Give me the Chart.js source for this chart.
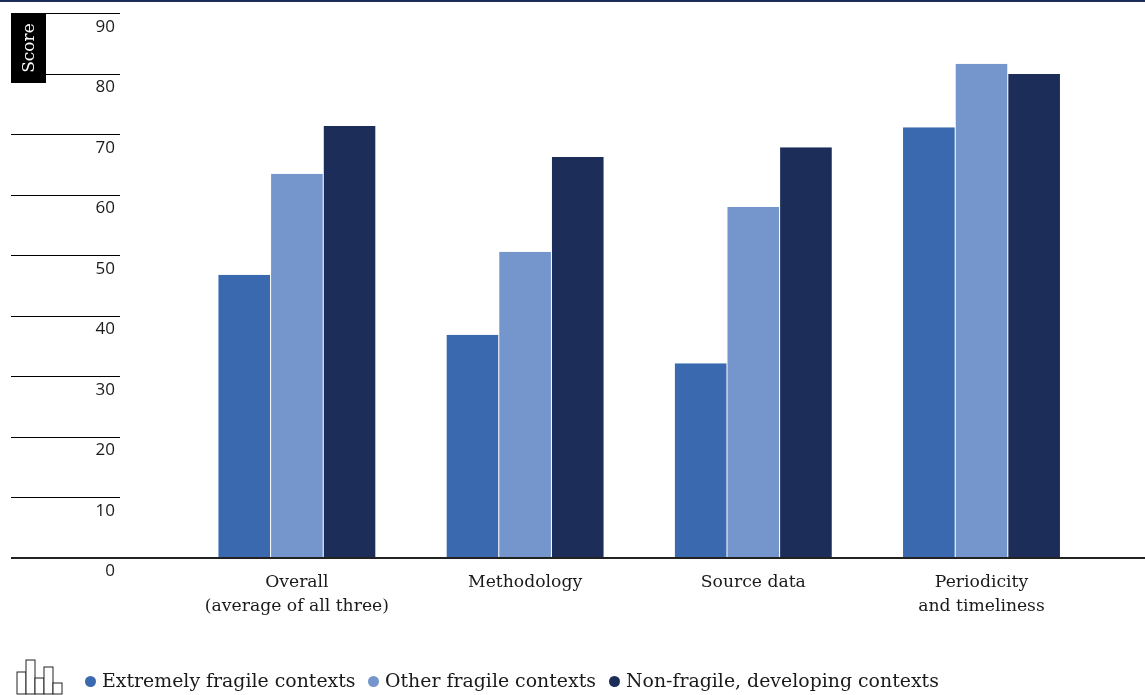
<!DOCTYPE html>
<html lang="en">
<head>
<meta charset="utf-8">
<title>Score by context</title>
<script src="https://cdn.jsdelivr.net/npm/chart.js@4"></script>
<style>
    html, body { margin: 0; padding: 0; background: #fff; }
    #wrap { position: relative; width: 1145px; height: 695px; overflow: hidden; }
    #grafico { position: absolute; left: 0; top: 0; }
    #linea-top { position: absolute; left: 0; top: 0; width: 100%; height: 2px; background: #1c2d5a; }
    #icono { position: absolute; left: 16px; top: 659px; }
    .leyenda { position: absolute; top: 668px; font: 18.9px/24px "DejaVu Serif", serif; color: #1a1a1a; white-space: nowrap; }
    .punto { position: absolute; top: 676px; width: 11px; height: 11px; border-radius: 50%; }
</style>
</head>
<body>
<div id="wrap">
    <canvas id="grafico" width="1145" height="695"></canvas>
    <div id="linea-top"></div>
    <svg id="icono" width="47" height="36" fill="#fff" stroke="#222" stroke-width="1">
        <rect x="1" y="13" width="9" height="22"/>
        <rect x="10" y="1" width="9" height="34"/>
        <rect x="19" y="19" width="9" height="16"/>
        <rect x="28" y="8" width="9" height="27"/>
        <rect x="37" y="24" width="9" height="11"/>
    </svg>
</div>
<script>
// Datos del gráfico
const categorias = [['Overall', '(average of all three)'], 'Methodology', 'Source data', ['Periodicity', 'and timeliness']];
const extremos = [46.8, 36.9, 32.2, 71.2];
const otros = [63.5, 50.6, 58, 81.7];
const noFragiles = [71.4, 66.3, 67.9, 80];
const nombresSeries = ['Extremely fragile contexts', 'Other fragile contexts', 'Non-fragile, developing contexts'];
const colores = ['#3a69b0', '#7596cc', '#1c2d5a'];
const ticksY = [0, 10, 20, 30, 40, 50, 60, 70, 80, 90];

// Eje Y a la izquierda: líneas cortas, números debajo de cada línea y etiqueta "Score"
const ejeIzquierdo = {
    id: 'ejeIzquierdo',
    afterDraw(chart) {
        const { ctx, scales: { y } } = chart;
        ctx.save();
        ticksY.forEach((t) => {
            const py = y.getPixelForValue(t);
            if (t === 0) {
                ctx.fillStyle = '#222';
                ctx.fillRect(11, Math.round(py) - 1, 1134, 2);
            } else {
                ctx.fillStyle = '#000';
                ctx.fillRect(11, Math.floor(py), 109, 1);
            }
            ctx.fillStyle = '#1a1a1a';
            ctx.font = '17px "Open Sans"';
            ctx.textAlign = 'right';
            ctx.textBaseline = 'middle';
            ctx.fillText(String(t), 115, Math.round(py) + 13);
        });
        ctx.fillStyle = '#000';
        ctx.fillRect(11, 13, 35, 70);
        ctx.translate(29.5, 48);
        ctx.rotate(-Math.PI / 2);
        ctx.fillStyle = '#fff';
        ctx.font = '17px "DejaVu Serif"';
        ctx.textAlign = 'center';
        ctx.textBaseline = 'middle';
        ctx.fillText('Score', 0, 0);
        ctx.restore();
    },
};

new Chart(document.getElementById('grafico'), {
    type: 'bar',
    data: {
        labels: categorias,
        datasets: [extremos, otros, noFragiles].map((valores, i) => ({
            label: nombresSeries[i],
            data: valores,
            backgroundColor: colores[i],
            borderColor: '#fff',
            borderWidth: { left: 0.5, right: 0.5, top: 0, bottom: 0 },
            categoryPercentage: 0.692,
            barPercentage: 1,
        })),
    },
    options: {
        responsive: false,
        animation: false,
        layout: { padding: { left: 182.8, right: 49.4, top: 13.5, bottom: 0 } },
        plugins: { legend: { display: false }, tooltip: { enabled: false } },
        scales: {
            x: {
                grid: { display: false },
                border: { display: false },
                afterFit(scale) { scale.height = 137; },
                ticks: {
                    autoSkip: false,
                    maxRotation: 0,
                    padding: 5,
                    color: '#1a1a1a',
                    font: { family: '"DejaVu Serif"', size: 17.2, lineHeight: 24 / 17.2 },
                },
            },
            y: { display: false, min: 0, max: 90 },
        },
    },
    plugins: [ejeIzquierdo],
});

// Leyenda
const wrap = document.getElementById('wrap');
const xPuntos = [84.5, 367.5, 608.5];
const xTextos = [102, 385, 626];
nombresSeries.forEach((nombre, i) => {
    const punto = document.createElement('span');
    punto.className = 'punto';
    punto.style.left = xPuntos[i] + 'px';
    punto.style.background = colores[i];
    wrap.appendChild(punto);
    const texto = document.createElement('span');
    texto.className = 'leyenda';
    texto.style.left = xTextos[i] + 'px';
    texto.textContent = nombre;
    wrap.appendChild(texto);
});
</script>
</body>
</html>
